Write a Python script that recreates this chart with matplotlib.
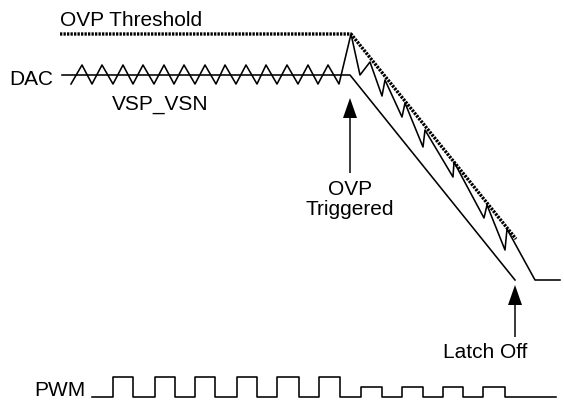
import numpy as np
import matplotlib.pyplot as plt

plt.rcParams['font.family'] = ['Liberation Sans', 'DejaVu Sans']

# canvas units are pixels of the 564x400 picture, y grows downwards
# OVP threshold (dotted)
ovp_x = [60, 351, 516]
ovp_y = [34, 34, 239]

# DAC reference (solid)
dac_x = [62, 350, 515]
dac_y = [75, 75, 280]

# VSP_VSN ripple on the flat part: valleys and peaks
flat_valley_x = [71, 92, 113, 133, 154, 174, 195, 216, 236, 257, 277, 298, 318, 339]
flat_peak_x = [82, 102, 123, 143, 164, 184, 205, 225, 246, 266, 287, 308, 328]
flat_valley_y = 84
flat_peak_y = 65

# VSP_VSN after OVP trips: sawtooth following the threshold down, then latch
ramp_x = [351, 360, 370, 382, 385, 402, 405, 423, 425, 453, 454, 484, 487, 505, 507, 535, 560]
ramp_y = [34, 75, 62, 96, 80, 117, 103, 147, 130, 177, 162, 218, 205, 250, 229, 280, 280]

# PWM edges
pwm_start = 92
pwm_end = 556
pwm_rise = [113, 155, 195, 237, 277, 319, 361, 402, 443, 483]
pwm_fall = [133, 175, 215, 257, 299, 340, 382, 423, 463, 505]
pwm_high = [377, 377, 377, 377, 377, 377, 387, 387, 387, 387]
pwm_low = 397

fig = plt.figure(figsize=(5.64, 4.0), dpi=100)
ax = fig.add_axes([0, 0, 1, 1])
ax.set_xlim(0, 564)
ax.set_ylim(400, 0)
ax.axis('off')

lw = 1.15
ax.plot(ovp_x, ovp_y, color='black', lw=2.4, linestyle=(0, (0.7, 0.35)), solid_capstyle='butt')
ax.plot(dac_x, dac_y, color='black', lw=lw)

# build ripple polyline
sx, sy = [], []
for i, vx in enumerate(flat_valley_x):
    sx.append(vx)
    sy.append(flat_valley_y)
    if i < len(flat_peak_x):
        sx.append(flat_peak_x[i])
        sy.append(flat_peak_y)
sx += ramp_x
sy += ramp_y
ax.plot(sx, sy, color='black', lw=lw)

# PWM waveform
px, py = [pwm_start], [pwm_low]
for r, f, h in zip(pwm_rise, pwm_fall, pwm_high):
    px += [r, r, f, f]
    py += [pwm_low, h, h, pwm_low]
px.append(pwm_end)
py.append(pwm_low)
ax.plot(px, py, color='black', lw=lw)

# arrows
def up_arrow(x, y_tail, y_tip):
    ax.arrow(x, y_tail, 0, y_tip - y_tail, width=1.5, head_width=14, head_length=20,
             length_includes_head=True, color='black', lw=0)

up_arrow(350, 173, 98)
up_arrow(515, 337, 285)

fs = 15
ax.text(60, 26, 'OVP Threshold', fontsize=fs, ha='left', va='baseline')
ax.text(53, 85, 'DAC', fontsize=fs, ha='right', va='baseline')
ax.text(112, 110, 'VSP_VSN', fontsize=fs, ha='left', va='baseline')
ax.text(350, 195, 'OVP', fontsize=fs, ha='center', va='baseline')
ax.text(350, 215, 'Triggered', fontsize=fs, ha='center', va='baseline')
ax.text(485, 358, 'Latch Off', fontsize=fs, ha='center', va='baseline')
ax.text(86, 396, 'PWM', fontsize=fs, ha='right', va='baseline')

fig.savefig('out.png', dpi=100)
